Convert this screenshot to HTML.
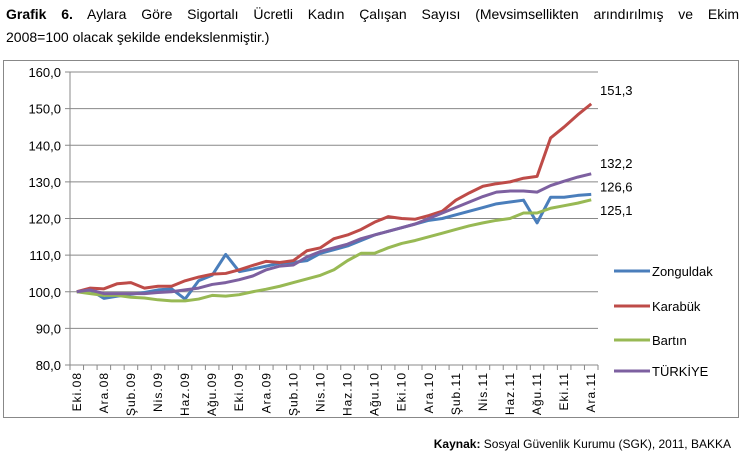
<!DOCTYPE html>
<html><head><meta charset="utf-8"><style>
body{margin:0;width:745px;height:460px;background:#fff;font-family:"Liberation Sans",sans-serif;overflow:hidden}
#title{position:absolute;left:6px;top:3px;width:733px;font-size:14px;line-height:23px;color:#000}
#title .l1{text-align:justify;text-align-last:justify;white-space:nowrap}
#src{position:absolute;right:14px;top:437px;font-size:12px;color:#000}
svg{position:absolute;left:0;top:0}
</style></head><body>
<div id="title"><div class="l1"><b>Grafik 6.</b> Aylara Göre Sigortalı Ücretli Kadın Çalışan Sayısı (Mevsimsellikten arındırılmış ve Ekim</div><div>2008=100 olacak şekilde endekslenmiştir.)</div></div>
<svg id="chart" width="745" height="460"></svg>
<div id="src"><b>Kaynak:</b> Sosyal Güvenlik Kurumu (SGK), 2011, BAKKA</div>
<script>
const xLabels=["Eki.08","Ara.08","Şub.09","Nis.09","Haz.09","Ağu.09","Eki.09","Ara.09","Şub.10","Nis.10","Haz.10","Ağu.10","Eki.10","Ara.10","Şub.11","Nis.11","Haz.11","Ağu.11","Eki.11","Ara.11"];
const yTicks=[80,90,100,110,120,130,140,150,160];
const zonguldak=[100,100.5,98.2,98.8,99.3,99.8,100.5,100.8,98,103,104.5,110.2,105.5,106.2,107,107.8,108,108.5,110.5,111.5,112.5,114,115.5,116.5,117.5,118.5,119.5,120,121,122,123,124,124.5,125,118.8,125.8,125.8,126.3,126.6];
const karabuk=[100,101,100.8,102.2,102.5,101,101.5,101.5,103,104,104.8,105,106,107.2,108.3,108,108.5,111.2,112,114.5,115.5,117,119,120.5,120,119.8,120.8,122,125,127,128.8,129.5,130,131,131.5,142,145,148.3,151.3];
const bartin=[100,99.5,99,99,98.5,98.3,97.8,97.5,97.5,98,99,98.8,99.2,100,100.7,101.5,102.5,103.5,104.5,106,108.5,110.5,110.5,112,113.2,114,115,116,117,118,118.8,119.5,120,121.5,121.5,122.8,123.5,124.2,125.1];
const turkiye=[100,100.5,99.5,99.5,99.5,99.5,99.8,100,100.5,101,102,102.5,103.3,104.3,106,107,107.3,109.5,111,112,113,114.5,115.5,116.5,117.5,118.5,120,121.5,123,124.5,126,127.2,127.5,127.5,127.2,129,130.2,131.3,132.2];
const seriesNames=["Zonguldak","Karabük","Bartın","TÜRKİYE"];
const endLabels=["126,6","151,3","125,1","132,2"];
const allSeries=[zonguldak,karabuk,bartin,turkiye];
const colors=["#4a7ebb","#be4b48","#98b954","#7d60a0"];
const NS="http://www.w3.org/2000/svg";
const svg=document.getElementById('chart');
const X0=70,X1=598,Y0=72,Y1=365,N=39;
const step=(X1-X0)/N;
const xs=i=>X0+step*(i+0.5);
const ys=v=>Y1-(v-80)/80*(Y1-Y0);
function mk(t,a){const e=document.createElementNS(NS,t);for(const k in a)e.setAttribute(k,a[k]);svg.appendChild(e);return e;}
const frame=mk('rect',{x:3.5,y:60.5,width:735,height:357,fill:'none',stroke:'#888'});


yTicks.forEach(v=>{
 const g=mk('line',{x1:X0-5,x2:X1,y1:ys(v),y2:ys(v),stroke:'#888','stroke-width':1});
 
 
 const t=mk('text',{x:X0-9,y:ys(v)+5,'text-anchor':'end','font-size':13,fill:'#000'});
 t.textContent=v.toFixed(1).replace('.',',');
 
 
});
const ax=mk('line',{x1:X0,x2:X0,y1:Y0,y2:Y1,stroke:'#888'});


for(let i=0;i<=N;i++){mk('line',{x1:X0+step*i,x2:X0+step*i,y1:Y1,y2:Y1+5,stroke:'#888'});}
xLabels.forEach((l,k)=>{
 const x=xs(k*2)+4,y=Y1+7;
 const t=mk('text',{x:x,y:y,transform:`rotate(-90 ${x} ${y})`,'text-anchor':'end','font-size':12,'letter-spacing':'1','fill':'#000'});
 t.textContent=l;
 
 
});
const labelDy=[-3,-9,15,-6];
allSeries.forEach((s,k)=>{
 const p=mk('polyline',{points:s.map((v,i)=>xs(i)+','+ys(v)).join(' '),fill:'none',stroke:colors[k],'stroke-width':3,'stroke-linejoin':'round'});
 
 
 const last=s[s.length-1];
 const t=mk('text',{x:600,y:ys(last)+labelDy[k],'font-size':13,fill:'#000'});
 t.textContent=endLabels[k];
 
 
});
[271,306,340,371].forEach((y,k)=>{
 const l=mk('line',{x1:614,x2:650,y1:y,y2:y,stroke:colors[k],'stroke-width':3});
 
 
 const t=mk('text',{x:652,y:y+5,'font-size':13,fill:'#000'});
 t.textContent=seriesNames[k];
 
 
});
</script>
</body></html>
